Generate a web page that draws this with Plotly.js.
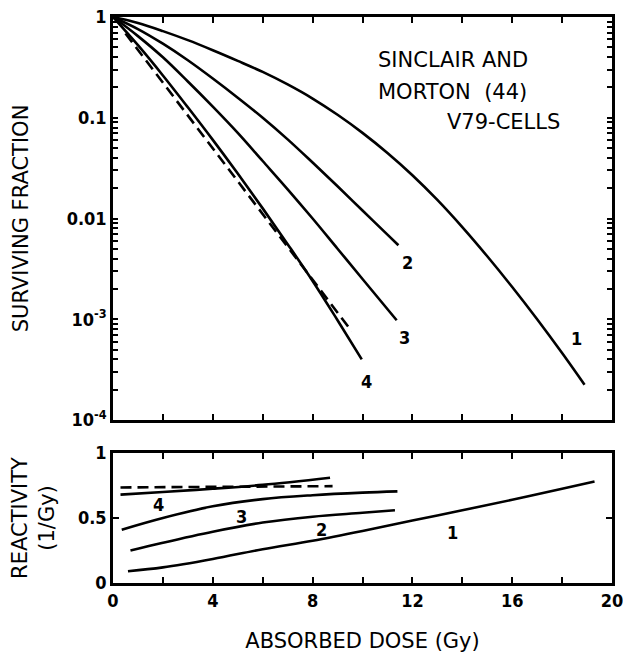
<!DOCTYPE html>
<html>
<head>
<meta charset="utf-8">
<script src="https://cdn.plot.ly/plotly-3.0.1.min.js"></script>
<style>html,body{margin:0;padding:0;background:#fff;}#chart{width:623px;height:653px;}</style>
</head>
<body>
<div id="chart"></div>
<script>
// ---- Surviving fraction (upper panel) ----
const dose1 = [0, 1, 2, 3, 4, 5, 6, 7, 8, 9, 10, 11, 12, 13, 14, 15, 16, 17, 18, 18.9];
const surv1 = [1, 0.871, 0.724, 0.589, 0.468, 0.367, 0.285, 0.214, 0.155, 0.107, 0.0708, 0.0447, 0.0269, 0.0153, 0.00822, 0.00422, 0.00209, 0.00100, 0.000462, 0.000224];
const dose2 = [0, 1, 2, 3, 4, 5, 6, 7, 8, 9, 10, 11, 11.44];
const surv2 = [1, 0.759, 0.543, 0.372, 0.245, 0.158, 0.100, 0.0610, 0.0359, 0.0209, 0.0120, 0.00692, 0.00543];
const dose3 = [0, 1, 2, 3, 4, 5, 6, 7, 8, 9, 10, 11.37];
const surv3 = [1, 0.646, 0.398, 0.229, 0.129, 0.0708, 0.0372, 0.0195, 0.0100, 0.00501, 0.00251, 0.000977];
const dose4 = [0, 1, 2, 3, 4, 5, 6, 7, 8, 9, 9.97];
const surv4 = [1, 0.525, 0.263, 0.127, 0.0603, 0.0279, 0.0126, 0.00556, 0.00240, 0.000977, 0.000400];
const doseDash = [0.5, 9.57];
const survDash = [0.687, 0.000759];

// ---- Reactivity (lower panel) ----
const rdose1 = [0.6, 2, 4, 6, 8, 10, 12, 14, 16, 18, 19.3];
const react1 = [0.09, 0.12, 0.185, 0.26, 0.325, 0.40, 0.48, 0.56, 0.64, 0.725, 0.78];
const rdose2 = [0.7, 2, 4, 6, 8, 10, 11.3];
const react2 = [0.25, 0.31, 0.395, 0.465, 0.51, 0.54, 0.56];
const rdose3 = [0.35, 2, 4, 6, 8, 10, 11.4];
const react3 = [0.41, 0.50, 0.59, 0.645, 0.675, 0.695, 0.705];
const rdose4 = [0.3, 2, 4, 6, 8.7];
const react4 = [0.68, 0.70, 0.725, 0.755, 0.81];
const rdoseDash = [0.3, 8.8];
const reactDash = [0.735, 0.745];

// ---- Tick labels ----
const xTickVals = [0, 2, 4, 6, 8, 10, 12, 14, 16, 18, 20];
const xTickText = ['0', '', '4', '', '8', '', '12', '', '16', '', '20'];
const survDecades = [1e-4, 1e-3, 1e-2, 1e-1, 1];
const survDecadeText = ['10<sup>-4</sup>', '10<sup>-3</sup>', '0.01', '0.1', '1'];
const reactTickVals = [0, 0.5, 1];
const reactTickText = ['0', '0.5', '1'];
const curveNames = ['1', '2', '3', '4'];

// log minor ticks built from decades
const yTickVals = [], yTickText = [];
survDecades.forEach((d, i) => {
  yTickVals.push(d); yTickText.push(survDecadeText[i]);
  if (d < 1) for (let k = 2; k <= 9; k++) { yTickVals.push(d * k); yTickText.push(' '); }
});

const solid = {color: '#000', width: 2.6, shape: 'spline', smoothing: 1};
const dashed = {color: '#000', width: 2.6, dash: '11px,6px'};
const traces = [
  {x: dose1, y: surv1, xaxis: 'x', yaxis: 'y', mode: 'lines', line: solid, name: 'curve 1'},
  {x: dose2, y: surv2, xaxis: 'x', yaxis: 'y', mode: 'lines', line: solid, name: 'curve 2'},
  {x: dose3, y: surv3, xaxis: 'x', yaxis: 'y', mode: 'lines', line: solid, name: 'curve 3'},
  {x: dose4, y: surv4, xaxis: 'x', yaxis: 'y', mode: 'lines', line: solid, name: 'curve 4'},
  {x: doseDash, y: survDash, xaxis: 'x', yaxis: 'y', mode: 'lines', line: dashed, name: 'exponential'},
  {x: rdose1, y: react1, xaxis: 'x2', yaxis: 'y2', mode: 'lines', line: solid, name: 'reactivity 1'},
  {x: rdose2, y: react2, xaxis: 'x2', yaxis: 'y2', mode: 'lines', line: solid, name: 'reactivity 2'},
  {x: rdose3, y: react3, xaxis: 'x2', yaxis: 'y2', mode: 'lines', line: solid, name: 'reactivity 3'},
  {x: rdose4, y: react4, xaxis: 'x2', yaxis: 'y2', mode: 'lines', line: solid, name: 'reactivity 4'},
  {x: rdoseDash, y: reactDash, xaxis: 'x2', yaxis: 'y2', mode: 'lines', line: dashed, name: 'reactivity exp.'}
];

const tickFont = {family: 'DejaVu Sans Condensed, DejaVu Sans, sans-serif', size: 18, color: '#000', weight: 'bold'};
const titleFont = {family: 'DejaVu Sans, sans-serif', size: 21, color: '#000'};
const labelFont = {family: 'DejaVu Sans Condensed, DejaVu Sans, sans-serif', size: 18, color: '#000', weight: 'bold'};
const textFont = {family: 'DejaVu Sans, sans-serif', size: 21, color: '#000'};

const axisCommon = {
  showline: true, linecolor: '#000', linewidth: 2.8, mirror: 'allticks',
  ticks: 'inside', ticklen: 6, tickwidth: 2, tickcolor: '#000',
  showgrid: false, zeroline: false, fixedrange: true, ticklabeloverflow: 'allow'
};

// curve label positions (top: x in Gy, y as log10 S; bottom: x in Gy, y reactivity)
const topLabelX = [18.56, 11.82, 11.7, 10.18];
const topLabelY = [-3.19, -2.44, -3.18, -3.62];
const botLabelX = [13.6, 8.35, 5.16, 1.82];
const botLabelY = [0.385, 0.41, 0.51, 0.60];

const annotations = [];
curveNames.forEach((n, i) => {
  annotations.push({x: topLabelX[i], y: topLabelY[i], xref: 'x', yref: 'y', text: n, showarrow: false, font: labelFont});
  annotations.push({x: botLabelX[i], y: botLabelY[i], xref: 'x2', yref: 'y2', text: n, showarrow: false, font: labelFont});
});
annotations.push({x: 10.55, y: -0.427, xref: 'x', yref: 'y', text: 'SINCLAIR AND', xanchor: 'left', showarrow: false, font: textFont});
annotations.push({x: 10.55, y: -0.744, xref: 'x', yref: 'y', text: 'MORTON  (44)', xanchor: 'left', showarrow: false, font: textFont});
annotations.push({x: 13.3, y: -1.042, xref: 'x', yref: 'y', text: 'V79-CELLS', xanchor: 'left', showarrow: false, font: textFont});

const layout = {
  width: 623, height: 653,
  margin: {l: 113, r: 11, t: 17, b: 70},
  paper_bgcolor: '#fff', plot_bgcolor: '#fff',
  showlegend: false,
  xaxis: Object.assign({}, axisCommon, {
    domain: [0, 1], anchor: 'y', range: [0, 20], tickvals: xTickVals, ticktext: xTickText, showticklabels: false
  }),
  yaxis: Object.assign({}, axisCommon, {
    domain: [0.288, 1], anchor: 'x', type: 'log', range: [-4, 0],
    tickvals: yTickVals, ticktext: yTickText, tickfont: tickFont, ticklen: 5,
    title: {text: 'SURVIVING FRACTION', font: titleFont, standoff: 33}
  }),
  xaxis2: Object.assign({}, axisCommon, {
    domain: [0, 1], anchor: 'y2', range: [0, 20], tickvals: xTickVals, ticktext: xTickText, tickfont: tickFont,
    title: {text: 'ABSORBED DOSE (Gy)', font: titleFont, standoff: 24}
  }),
  yaxis2: Object.assign({}, axisCommon, {
    domain: [0, 0.2297], anchor: 'x2', range: [0, 1], tickvals: reactTickVals, ticktext: reactTickText, tickfont: tickFont,
    title: {text: 'REACTIVITY<br>(1/Gy)', font: titleFont, standoff: 18}
  }),
  annotations: annotations
};

Plotly.newPlot('chart', traces, layout, {displayModeBar: false, staticPlot: true});
</script>
</body>
</html>
